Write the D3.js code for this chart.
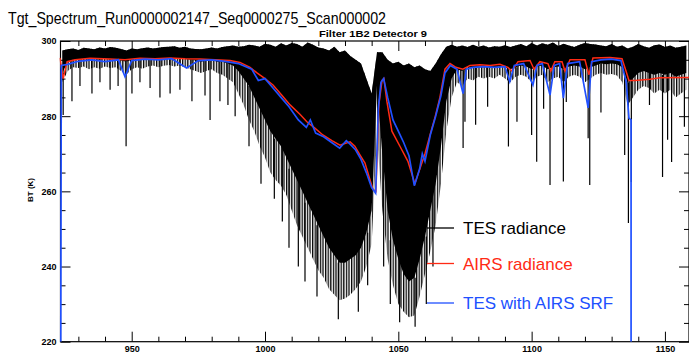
<html>
    <head>
        <title>Tgt Spectrum</title>
        <script src="https://cdn.jsdelivr.net/npm/d3@7"></script>
        <style>
            body { margin: 0; background: #fff; }
            svg { display: block; }
            text { font-family: "Liberation Sans", Arial, sans-serif; }
        </style>
    </head>
    <body>
        <svg id="chart"></svg>
    </body>
    <script>
        const WIDTH = 689
        const HEIGHT = 355
        // plot frame (the right edge sits just outside the window, as in the picture)
        const PLOT = {left: 60.5, top: 41, right: 690, bottom: 341.7}

        const TITLE = "Tgt_Spectrum_Run0000002147_Seq0000275_Scan000002"
        const SUBTITLE = "Filter 1B2 Detector 9"
        const Y_LABEL = "BT (K)"
        const X_TICKS = [950, 1000, 1050, 1100, 1150]
        const Y_TICKS = [220, 240, 260, 280, 300]
        const LEGEND = ["TES radiance", "AIRS radiance", "TES with AIRS SRF"]
        const COLORS = ["#000000", "#ff2a14", "#2050ff"]

        // TES spectrum, binned every 2 cm-1 from 924:
        // top of the trace, bottom of its solid core, bottom of its hatched fringe
        const TES_START = 924
        const TES_STEP = 2
        const TES_HI = [
            297.5, 297.8, 298.0, 297.6, 298.2, 298.0, 297.8, 298.3, 298.0, 298.4,
            298.2, 297.9, 297.5, 298.0, 297.8, 298.1, 298.3, 298.0, 298.2, 298.4,
            298.5, 298.6, 298.2, 298.5, 298.0, 297.9, 297.8, 298.0, 298.3, 298.0,
            298.4, 298.6, 298.8, 298.5, 298.6, 299.0, 298.8, 298.5, 299.3, 299.0,
            298.5, 299.4, 298.8, 299.5, 299.2, 298.5, 299.6, 299.0, 298.3, 298.0,
            297.5, 298.5, 297.0, 297.5, 296.0, 295.0, 294.0, 290.0, 286.0, 297.0,
            297.0, 295.0, 294.0, 294.5, 293.5, 294.0, 293.0, 293.5, 292.5, 292.0,
            294.0, 296.5, 298.5, 299.0, 298.5, 298.8, 298.4, 299.0, 298.5, 298.8,
            298.3, 298.6, 298.5, 298.9, 298.4, 298.8, 299.2, 298.6, 299.5, 298.8,
            299.4, 299.0, 299.6, 298.7, 299.3, 298.8, 298.4, 299.0, 299.5, 299.2,
            299.1, 298.8, 298.6, 299.2, 298.5, 298.8, 298.0, 298.5, 299.2, 298.6,
            298.2, 298.9, 299.1, 298.4, 298.8, 298.2, 298.5, 298.8
        ]
        const TES_CORE = [
            291.5, 294.5, 295.0, 295.0, 295.2, 295.0, 295.2, 295.0, 295.3, 295.0,
            295.2, 294.8, 294.5, 295.0, 295.2, 295.0, 295.3, 295.4, 295.2, 295.4,
            295.5, 295.3, 295.4, 295.2, 295.0, 294.8, 294.5, 294.8, 295.0, 294.5,
            294.5, 294.0, 293.5, 292.0, 290.0, 288.0, 285.0, 282.0, 279.0, 276.0,
            274.0, 272.0, 269.0, 266.0, 263.0, 260.0, 257.0, 254.0, 251.0, 248.0,
            245.0, 243.0, 241.0, 241.0, 242.0, 243.0, 245.0, 249.0, 255.0, 288.0,
            270.0, 255.0, 247.0, 242.0, 238.0, 236.0, 237.0, 242.0, 248.0, 255.0,
            262.0, 272.0, 284.0, 290.0, 292.5, 292.0, 293.0, 292.8, 293.0, 293.0,
            293.0, 293.0, 293.2, 293.0, 292.5, 293.0, 293.5, 293.2, 292.5, 293.2,
            293.5, 292.5, 293.0, 293.2, 292.5, 293.2, 293.5, 293.2, 292.5, 293.0,
            293.5, 294.0, 293.8, 294.0, 293.8, 293.0, 289.0, 290.0, 291.5, 292.0,
            291.5, 291.0, 291.5, 291.0, 291.5, 290.5, 291.0, 291.5
        ]
        const TES_LO = [
            289.0, 292.0, 293.0, 292.8, 293.2, 292.5, 293.0, 292.6, 293.2, 292.8,
            293.0, 292.0, 291.0, 292.5, 293.0, 292.6, 293.2, 293.5, 293.0, 293.4,
            293.6, 293.2, 293.5, 293.0, 292.5, 292.0, 291.5, 292.0, 292.5, 291.5,
            291.0, 290.0, 289.0, 286.0, 283.0, 279.0, 276.0, 272.0, 269.0, 265.0,
            263.0, 261.5, 259.0, 255.0, 251.0, 248.0, 245.0, 242.0, 239.0, 237.0,
            234.0, 232.5, 231.0, 231.5, 232.5, 234.0, 236.0, 240.0, 246.0, 275.0,
            255.0, 242.0, 235.0, 230.0, 228.0, 226.5, 227.0, 232.0, 238.0, 244.0,
            251.0, 262.0, 276.0, 285.0, 289.0, 288.0, 290.0, 289.5, 290.5, 290.0,
            290.5, 290.0, 291.0, 290.0, 289.0, 290.5, 291.0, 290.5, 289.0, 290.5,
            291.0, 289.0, 290.0, 290.5, 289.0, 290.5, 291.0, 290.5, 289.0, 290.0,
            291.0, 291.5, 291.0, 291.2, 290.8, 289.0, 283.0, 285.0, 287.0, 288.0,
            287.5, 286.0, 287.0, 286.0, 287.0, 285.0, 286.0, 287.0
        ]
        // single deep TES lines: wavenumber, lowest BT
        const TES_SPIKE_WN = [
            924.3, 927.6, 930.6, 935.1, 938.1, 941.9, 944.9, 947.9, 950.1, 953.1,
            956.9, 960.6, 964.4, 968.1, 972.6, 977.5, 979.4, 983.1, 986.1, 988.8,
            994.0, 998.5, 1003.5, 1006.5, 1009.0, 1012.5, 1015.0, 1019.5, 1027.5, 1035.0,
            1038.5, 1044.5, 1047.0, 1050.5, 1056.3, 1060.5, 1063.0,
            1074.3, 1075.0, 1079.0, 1083.5, 1091.3, 1094.5, 1100.0, 1101.9, 1104.5,
            1106.9, 1111.9, 1113.0, 1121.2, 1121.8, 1126.0, 1134.9, 1136.3, 1137.4,
            1144.2, 1149.1, 1151.0, 1152.5, 1157.3
        ]
        const TES_SPIKE_BT = [
            280.3, 284.0, 288.0, 286.0, 289.0, 287.0, 288.0, 272.0, 286.0, 289.0,
            287.5, 285.0, 286.0, 287.0, 284.0, 285.5, 279.0, 284.0, 283.0, 280.0,
            272.0, 262.0, 258.0, 252.0, 245.0, 240.0, 236.0, 232.0, 226.0, 228.0,
            235.0, 240.0, 230.0, 225.2, 224.0, 230.0, 240.0,
            271.5, 278.5, 277.7, 282.5, 271.9, 278.5, 275.0, 267.9, 282.0,
            261.7, 262.6, 283.8, 274.1, 261.7, 281.0, 269.7, 251.6, 262.5,
            283.0, 263.8, 273.7, 267.8, 277.2
        ]

        // AIRS radiance (red)
        const AIRS_WN = [
            923.1, 924.3, 925.8, 928.8, 934.4, 941.9, 947.5, 953.1, 958.8, 964.4,
            970.0, 975.6, 981.3, 986.9, 990.6, 994.4, 997.0, 1000.0, 1003.0, 1006.4,
            1009.4, 1013.1, 1015.7, 1018.7, 1021.7, 1025.1, 1028.1, 1031.9, 1033.7, 1035.6,
            1037.5, 1039.4, 1040.5, 1041.6, 1042.7, 1043.9, 1044.6, 1045.7, 1047.6, 1050.6,
            1053.6, 1056.2, 1058.1, 1060.0, 1061.9, 1063.7, 1065.6, 1067.5, 1069.4, 1071.6,
            1074.2, 1076.9, 1080.6, 1084.4, 1088.1, 1091.1, 1092.6, 1094.9, 1099.4, 1100.9,
            1103.1, 1106.1, 1107.2, 1108.7, 1111.4, 1112.5, 1114.4, 1120.0, 1121.5, 1123.0,
            1129.4, 1133.9, 1135.4, 1136.5, 1138.7, 1144.4, 1148.1, 1160.0
        ]
        const AIRS_BT = [
            295.5, 290.0, 294.5, 295.0, 295.4, 295.2, 295.0, 295.4, 295.3, 295.5,
            295.3, 295.2, 295.0, 294.8, 294.3, 293.0, 291.5, 290.0, 288.3, 285.5,
            283.0, 280.5, 278.5, 276.8, 275.0, 273.5, 272.3, 273.2, 272.0, 269.7,
            267.5, 263.0, 260.5, 260.0, 283.0, 289.5, 290.0, 284.0, 276.0, 272.0,
            268.0, 262.0, 266.0, 270.0, 275.0, 279.5, 285.0, 292.5, 294.0, 293.0,
            292.5, 293.5, 293.7, 293.5, 293.8, 293.0, 292.0, 294.5, 294.8, 292.5,
            294.5, 294.0, 292.0, 294.5, 294.5, 292.0, 295.0, 295.0, 291.0, 295.5,
            295.6, 295.3, 292.0, 289.5, 289.5, 289.8, 290.2, 290.3
        ]

        // TES convolved with the AIRS SRF (blue)
        const SRF_WN = [
            923.4, 923.6, 926.0, 930.0, 935.0, 940.0, 945.0, 947.5, 950.0, 955.0,
            960.0, 965.0, 970.6, 975.0, 980.0, 985.0, 990.0, 995.0, 997.5, 1000.0,
            1003.0, 1006.0, 1009.0, 1012.5, 1015.5, 1017.0, 1019.0, 1022.0, 1025.0, 1028.0,
            1030.5, 1032.0, 1034.0, 1036.0, 1038.0, 1040.0, 1041.5, 1042.5, 1043.5, 1044.5,
            1046.0, 1048.0, 1050.0, 1052.0, 1054.0, 1056.0, 1058.0, 1059.0, 1060.0, 1062.0,
            1064.0, 1066.0, 1067.5, 1069.5, 1072.0, 1074.3, 1075.5, 1078.0, 1082.0, 1086.0,
            1090.0, 1091.8, 1093.5, 1097.0, 1100.5, 1102.0, 1104.0, 1106.9, 1108.5, 1110.5,
            1111.9, 1113.5, 1118.0, 1121.2, 1122.5, 1126.0, 1130.0, 1133.5, 1135.5, 1136.5,
            1137.3, 1137.3
        ]
        const SRF_BT = [
            220.0, 293.5, 293.8, 294.6, 295.0, 294.5, 295.0, 290.5, 294.8, 295.2,
            295.0, 295.3, 292.8, 294.8, 295.0, 294.6, 294.0, 292.5, 289.5, 290.0,
            287.5, 285.0, 282.5, 279.0, 277.0, 279.0, 275.5, 274.5, 273.0, 271.5,
            273.5, 272.5, 271.0, 268.5, 265.0, 261.0, 259.5, 282.0, 289.0, 290.0,
            285.0, 279.0, 276.0, 273.0, 269.5, 261.5, 266.0, 270.0, 268.0, 275.0,
            280.0, 285.5, 291.5, 293.5, 292.5, 286.0, 292.5, 293.0, 293.2, 293.0,
            293.2, 289.2, 293.5, 294.0, 288.3, 293.5, 294.0, 285.6, 293.5, 294.0,
            284.8, 294.0, 294.5, 282.2, 294.5, 295.0, 295.2, 294.8, 289.0, 279.5,
            279.0, 220.0
        ]

        const svg = d3.select("#chart")
            .attr("width", WIDTH)
            .attr("height", HEIGHT)

        const xScale = d3.scaleLinear()
            .domain([923.3, 1159.4])
            .range([PLOT.left, PLOT.right])
        const yScale = d3.scaleLinear()
            .domain([220, 300])
            .range([PLOT.bottom, PLOT.top])

        const defs = svg.append("defs")
        defs.append("clipPath").attr("id", "plotclip")
            .append("rect")
            .attr("x", PLOT.left - 1).attr("y", PLOT.top)
            .attr("width", PLOT.right - PLOT.left + 1)
            .attr("height", PLOT.bottom - PLOT.top)
        // vertical hatching for the ragged lower edge of the TES trace
        defs.append("pattern").attr("id", "hatch")
            .attr("patternUnits", "userSpaceOnUse")
            .attr("width", 2.6).attr("height", 10)
            .append("rect")
                .attr("width", 1.3).attr("height", 10)
                .attr("fill", "#000")

        // frame with inward ticks on all four sides
        const minorX = d3.range(930, 1160, 10).filter(v => v % 50 != 0)
        const minorY = d3.range(225, 300, 5).filter(v => v % 20 != 0)

        function styleAxis(g) {
            g.select(".domain").remove()
            g.selectAll("line").attr("stroke", "#000")
            g.selectAll("text")
                .attr("fill", "#000")
                .style("font-size", "9px")
                .style("font-weight", "bold")
        }

        svg.append("g")
            .attr("transform", `translate(0,${PLOT.bottom})`)
            .call(d3.axisBottom(xScale).tickValues(X_TICKS).tickSize(-10).tickPadding(4).tickFormat(d3.format("d")))
            .call(styleAxis)
        svg.append("g")
            .attr("transform", `translate(0,${PLOT.bottom})`)
            .call(d3.axisBottom(xScale).tickValues(minorX).tickSize(-5).tickFormat(""))
            .call(styleAxis)
        svg.append("g")
            .attr("transform", `translate(0,${PLOT.top})`)
            .call(d3.axisTop(xScale).tickValues(X_TICKS).tickSize(-10).tickFormat(""))
            .call(styleAxis)
        svg.append("g")
            .attr("transform", `translate(0,${PLOT.top})`)
            .call(d3.axisTop(xScale).tickValues(minorX).tickSize(-5).tickFormat(""))
            .call(styleAxis)

        svg.append("g")
            .attr("transform", `translate(${PLOT.left},0)`)
            .call(d3.axisLeft(yScale).tickValues(Y_TICKS).tickSize(-10).tickPadding(4).tickFormat(d3.format("d")))
            .call(styleAxis)
        svg.append("g")
            .attr("transform", `translate(${PLOT.left},0)`)
            .call(d3.axisLeft(yScale).tickValues(minorY).tickSize(-5).tickFormat(""))
            .call(styleAxis)
        svg.append("g")
            .attr("transform", `translate(${PLOT.right - 1},0)`)
            .call(d3.axisRight(yScale).tickValues(Y_TICKS).tickSize(-10).tickFormat(""))
            .call(styleAxis)
        svg.append("g")
            .attr("transform", `translate(${PLOT.right - 1},0)`)
            .call(d3.axisRight(yScale).tickValues(minorY).tickSize(-5).tickFormat(""))
            .call(styleAxis)

        svg.append("rect")
            .attr("x", PLOT.left).attr("y", PLOT.top)
            .attr("width", PLOT.right - PLOT.left - 1)
            .attr("height", PLOT.bottom - PLOT.top)
            .attr("fill", "none")
            .attr("stroke", "#000")
            .attr("stroke-width", 1.2)

        const plot = svg.append("g").attr("clip-path", "url(#plotclip)")

        // TES: hatched fringe, solid core, deep lines as single strokes
        const tes = TES_HI.map((hi, i) => ({wn: TES_START + i * TES_STEP, hi: hi, core: TES_CORE[i], lo: TES_LO[i]}))
        plot.append("path")
            .datum(tes)
            .attr("fill", "url(#hatch)")
            .attr("d", d3.area().x(d => xScale(d.wn)).y0(d => yScale(d.lo)).y1(d => yScale(d.hi)))
        plot.append("path")
            .datum(tes)
            .attr("fill", COLORS[0])
            .attr("d", d3.area().x(d => xScale(d.wn)).y0(d => yScale(d.core)).y1(d => yScale(d.hi)))

        function coreAt(wn) {
            let d = tes[Math.round((wn - TES_START) / TES_STEP)]
            return d ? d.core : 295
        }
        plot.selectAll(".spike")
            .data(TES_SPIKE_WN.map((w, i) => ({wn: w, bt: TES_SPIKE_BT[i]})))
            .enter().append("line")
                .attr("class", "spike")
                .attr("x1", d => xScale(d.wn))
                .attr("x2", d => xScale(d.wn))
                .attr("y1", d => yScale(coreAt(d.wn)))
                .attr("y2", d => yScale(d.bt))
                .attr("stroke", COLORS[0])
                .attr("stroke-width", 1.2)

        const line = d3.line()
            .x(d => xScale(d[0]))
            .y(d => yScale(d[1]))

        plot.append("path")
            .datum(AIRS_WN.map((w, i) => [w, AIRS_BT[i]]))
            .attr("fill", "none")
            .attr("stroke", COLORS[1])
            .attr("stroke-width", 1.5)
            .attr("d", line)

        plot.append("path")
            .datum(SRF_WN.map((w, i) => [w, SRF_BT[i]]))
            .attr("fill", "none")
            .attr("stroke", COLORS[2])
            .attr("stroke-width", 1.7)
            .attr("d", line)

        // titles
        svg.append("text")
            .attr("x", 8).attr("y", 24)
            .attr("textLength", 378)
            .attr("lengthAdjust", "spacingAndGlyphs")
            .style("font-size", "17px")
            .text(TITLE)
        svg.append("text")
            .attr("x", 373).attr("y", 37)
            .attr("text-anchor", "middle")
            .attr("textLength", 108)
            .attr("lengthAdjust", "spacingAndGlyphs")
            .style("font-size", "9px")
            .style("font-weight", "bold")
            .text(SUBTITLE)
        svg.append("text")
            .attr("transform", "translate(33,190) rotate(-90)")
            .attr("text-anchor", "middle")
            .style("font-size", "8px")
            .style("font-weight", "bold")
            .text(Y_LABEL)

        // legend
        const legendY = [228, 263.5, 303]
        LEGEND.forEach((label, i) => {
            svg.append("line")
                .attr("x1", 427).attr("x2", 454)
                .attr("y1", legendY[i]).attr("y2", legendY[i])
                .attr("stroke", COLORS[i])
                .attr("stroke-width", 1.3)
            svg.append("text")
                .attr("x", 463).attr("y", legendY[i])
                .attr("dy", "0.36em")
                .attr("fill", COLORS[i])
                .style("font-size", "17px")
                .text(label)
        })
    </script>
</html>
